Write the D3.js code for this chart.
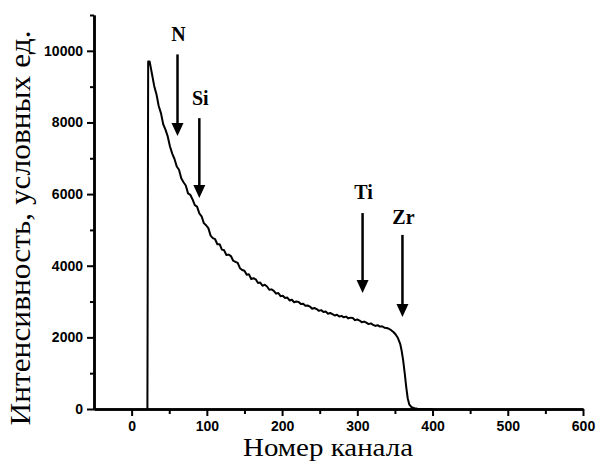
<!DOCTYPE html>
<html><head><meta charset="utf-8">
<script src="https://cdn.jsdelivr.net/npm/d3@7/dist/d3.min.js"></script>
<style>html,body{margin:0;padding:0;background:#fff;}svg{display:block;}</style>
</head><body>
<svg id="c" width="597" height="464"></svg>
<script>
// ---- data ----
const channels = [21,22,24,27,30,33,36,39,42,45,48,51,54,57,60,63,66,69,72,75,78,81,84,87,90,93,96,99,102,105,108,111,114,117,120,123,126,129,132,135,138,141,144,147,150,153,156,159,162,165,168,171,174,177,180,183,186,189,192,195,198,201,204,207,210,213,216,219,222,225,228,231,234,237,240,243,246,249,252,255,258,261,264,267,270,273,276,279,282,285,288,291,294,297,300,303,306,309,312,315,318,321,324,327,330,333,336,339,342,345,348,351,354,357,359,361,363,365,367,369,372,376,380,390,400];
const intensity = [0,9700,9700,9360,9020,8790,8460,8260,7950,7800,7610,7330,7130,6980,6770,6680,6440,6330,6240,6020,5980,5850,5690,5650,5460,5380,5190,5130,5050,4840,4770,4740,4600,4600,4450,4430,4300,4310,4270,4140,4110,4080,3930,3880,3860,3750,3760,3630,3650,3620,3520,3530,3440,3470,3420,3330,3340,3300,3220,3240,3150,3160,3100,3110,3030,3050,2980,3000,2990,2930,2940,2880,2890,2860,2800,2820,2790,2740,2760,2710,2720,2660,2680,2650,2610,2630,2580,2600,2560,2580,2530,2550,2540,2480,2500,2470,2420,2440,2410,2370,2390,2350,2320,2340,2300,2310,2270,2260,2240,2200,2150,2080,1980,1820,1620,1350,1000,620,300,130,50,20,8,0,0];

const xTicks = [0,100,200,300,400,500,600];
const xMinorTicks = [50,150,250,350,450,550];
const yTicks = [0,2000,4000,6000,8000,10000];
const yMinorTicks = [1000,3000,5000,7000,9000,11000];

const peakLabels = ["N","Si","Ti","Zr"];
const peakChannels = [61,90,307,360];
const arrowTop = [9900,8120,5470,4860];
const arrowTip = [7620,5890,3240,2570];
const labelBase = [10280,8480,5860,5170];

const xTitle = "Номер канала";
const yTitle = "Интенсивность, условных ед.";

// ---- chart ----
const svg = d3.select("#c");
const x = d3.scaleLinear().domain([-50,600]).range([94,583]);
const y = d3.scaleLinear().domain([0,11000]).range([409,15]);

// data line
const line = d3.line().x((d,i)=>x(channels[i])).y(d=>y(d));
svg.append("path").datum(intensity)
  .attr("d", line).attr("fill","none").attr("stroke","#000")
  .attr("stroke-width",2).attr("stroke-linejoin","round");

// axes
const tickFont = "bold 14px 'Liberation Sans', Arial, sans-serif";
const gx = svg.append("g").attr("transform","translate(0,409)");
gx.call(d3.axisBottom(x).tickValues(xTicks).tickSize(7).tickSizeOuter(0).tickFormat(d3.format("d")));
gx.append("g").call(d3.axisBottom(x).tickValues(xMinorTicks).tickSize(5).tickSizeOuter(0).tickFormat(""));
gx.selectAll("text").style("font", tickFont).attr("fill","#000").attr("dy","0.95em").attr("y",9);

const gy = svg.append("g").attr("transform","translate(94,0)");
gy.call(d3.axisLeft(y).tickValues(yTicks).tickSize(7).tickSizeOuter(0).tickFormat(d3.format("d")));
gy.append("g").call(d3.axisLeft(y).tickValues(yMinorTicks).tickSize(4).tickSizeOuter(0).tickFormat(""));
gy.selectAll("text").style("font", tickFont).attr("fill","#000").attr("x",-11);

svg.selectAll(".domain").attr("stroke","#000").attr("stroke-width",2.5);
svg.selectAll(".tick line").attr("stroke","#000").attr("stroke-width",2);

// arrows
peakLabels.forEach((lab,i)=>{
  const cx = x(peakChannels[i]);
  const yt = y(arrowTop[i]), yp = y(arrowTip[i]);
  svg.append("line").attr("x1",cx).attr("x2",cx).attr("y1",yt).attr("y2",yp-10)
    .attr("stroke","#000").attr("stroke-width",2.5);
  svg.append("path").attr("d",`M${cx-6},${yp-13}L${cx+6},${yp-13}L${cx},${yp}Z`).attr("fill","#000");
  svg.append("text").attr("x",cx+1).attr("y",y(labelBase[i])).attr("text-anchor","middle")
    .style("font","bold 20px 'Liberation Serif', 'Times New Roman', serif").text(lab);
});

// titles
svg.append("text").attr("x",328).attr("y",456).attr("text-anchor","middle")
  .attr("textLength",170).attr("lengthAdjust","spacingAndGlyphs")
  .style("font","26px 'Liberation Serif', 'Times New Roman', serif").text(xTitle);
svg.append("text").attr("transform","translate(30,228) rotate(-90)").attr("text-anchor","middle")
  .attr("textLength",395).attr("lengthAdjust","spacingAndGlyphs")
  .style("font","29px 'Liberation Serif', 'Times New Roman', serif").text(yTitle);
</script>
</body></html>
